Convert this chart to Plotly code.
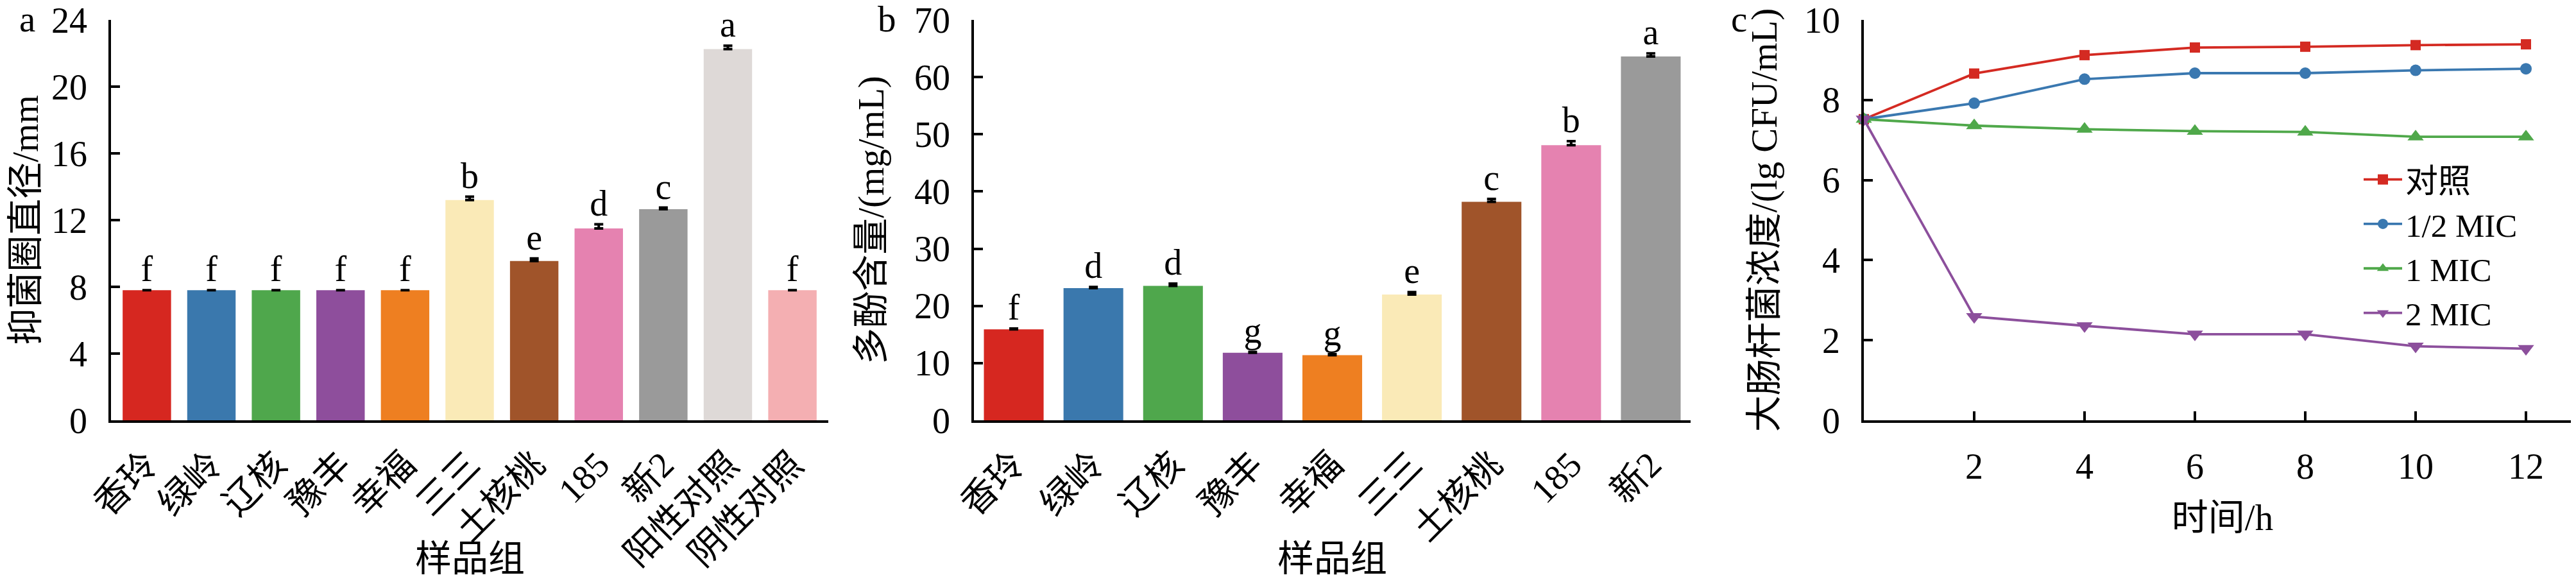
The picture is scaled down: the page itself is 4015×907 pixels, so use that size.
import plotly.graph_objects as go
from plotly.subplots import make_subplots

# panel a: inhibition zone diameter
groups_a = ["香玲", "绿岭", "辽核", "豫丰", "幸福", "三三", "土核桃", "185", "新2", "阳性对照", "阴性对照"]
zone_mm = [7.8, 7.8, 7.8, 7.8, 7.8, 13.2, 9.55, 11.5, 12.65, 22.25, 7.8]
zone_err = [0, 0, 0, 0, 0, 0.2, 0.15, 0.25, 0.1, 0.2, 0]
letters_a = ["f", "f", "f", "f", "f", "b", "e", "d", "c", "a", "f"]
colors_a = ["#d62720", "#3a78ad", "#4fa74c", "#8e4e9c", "#ee7f21", "#faeab7",
            "#a0542a", "#e582b0", "#9a9a9a", "#ded9d7", "#f4afb2"]

# panel b: polyphenol content
groups_b = ["香玲", "绿岭", "辽核", "豫丰", "幸福", "三三", "土核桃", "185", "新2"]
phenol = [15.9, 23.1, 23.5, 11.8, 11.4, 22.0, 38.2, 48.1, 63.6]
phenol_err = [0.15, 0.2, 0.4, 0.15, 0.15, 0.4, 0.5, 0.7, 0.55]
letters_b = ["f", "d", "d", "g", "g", "e", "c", "b", "a"]
colors_b = colors_a[:9]

# panel c: E. coli growth curves
hours = [0, 2, 4, 6, 8, 10, 12]
series_names = ["对照", "1/2 MIC", "1 MIC", "2 MIC"]
ctrl = [7.52, 8.66, 9.12, 9.31, 9.33, 9.37, 9.39]
half_mic = [7.52, 7.92, 8.52, 8.67, 8.67, 8.74, 8.78]
one_mic = [7.52, 7.36, 7.27, 7.22, 7.2, 7.08, 7.08]
two_mic = [7.52, 2.59, 2.36, 2.15, 2.15, 1.85, 1.79]
line_colors = ["#d42a22", "#3a78b0", "#4fa84a", "#8c4f9c"]
symbols = ["square", "circle", "triangle-up", "triangle-down"]

W, H = 4015, 907
FONT = "Liberation Serif, Noto Sans CJK SC"
fs = 56

fig = make_subplots(rows=1, cols=3)

fig.add_trace(go.Bar(x=groups_a, y=zone_mm, marker_color=colors_a, marker_line_width=0,
                     error_y=dict(type="data", array=zone_err, arrayminus=[0] * len(zone_err),
                                  symmetric=False, color="black", thickness=4, width=7),
                     showlegend=False), row=1, col=1)
fig.add_trace(go.Scatter(x=groups_a, y=[v + e for v, e in zip(zone_mm, zone_err)], text=letters_a,
                         mode="text", textposition="top center", cliponaxis=False,
                         textfont=dict(family=FONT, size=fs, color="black"), showlegend=False),
              row=1, col=1)

fig.add_trace(go.Bar(x=groups_b, y=phenol, marker_color=colors_b, marker_line_width=0,
                     error_y=dict(type="data", array=phenol_err, arrayminus=[0] * len(phenol_err),
                                  symmetric=False, color="black", thickness=4, width=7),
                     showlegend=False), row=1, col=2)
fig.add_trace(go.Scatter(x=groups_b, y=[v + e for v, e in zip(phenol, phenol_err)], text=letters_b,
                         mode="text", textposition="top center", cliponaxis=False,
                         textfont=dict(family=FONT, size=fs, color="black"), showlegend=False),
              row=1, col=2)

for name, ys, col, sym in zip(series_names, [ctrl, half_mic, one_mic, two_mic], line_colors, symbols):
    size = 22 if "triangle" in sym else (18 if sym == "circle" else 16)
    fig.add_trace(go.Scatter(x=hours, y=ys, name=name, mode="lines+markers",
                             line=dict(color=col, width=3.8),
                             marker=dict(symbol=sym, size=size, color=col),
                             cliponaxis=False), row=1, col=3)

ydom = [1 - 647 / H, 1 - 23 / H]
axis_common = dict(showline=True, linecolor="black", linewidth=3.5, showgrid=False, zeroline=False,
                   automargin=False, ticklabeloverflow="allow",
                   tickfont=dict(family=FONT, size=fs, color="black"))
title_font = dict(family=FONT, size=57, color="black")

fig.update_xaxes(domain=[165 / W, 1283 / W], ticks="", tickangle=-45, ticklabelstandoff=10,
                 row=1, col=1, **axis_common)
fig.update_xaxes(domain=[1510 / W, 2627 / W], ticks="", tickangle=-45, ticklabelstandoff=10,
                 row=1, col=2, **axis_common)
fig.update_xaxes(domain=[2897 / W, 1.0], range=[0, 13], tickvals=[2, 4, 6, 8, 10, 12],
                 ticks="inside", ticklen=14, tickwidth=3.5, tickcolor="black", ticklabelstandoff=20,
                 title=dict(text="时间/h", font=title_font, standoff=30),
                 row=1, col=3, **axis_common)

ytick = dict(ticks="inside", ticklen=14, tickwidth=3.5, tickcolor="black", ticklabelstandoff=22)
fig.update_yaxes(domain=ydom, range=[0, 24], dtick=4, row=1, col=1,
                 title=dict(text="抑菌圈直径/mm", font=title_font, standoff=30),
                 **ytick, **axis_common)
fig.update_yaxes(domain=ydom, range=[0, 70], dtick=10, row=1, col=2,
                 title=dict(text="多酚含量/(mg/mL)", font=title_font, standoff=30),
                 **ytick, **axis_common)
fig.update_yaxes(domain=ydom, range=[0, 10], dtick=2, row=1, col=3,
                 title=dict(text="大肠杆菌浓度/(lg CFU/mL)", font=title_font, standoff=25),
                 **ytick, **axis_common)

annots = [
    dict(text="a", x=20 / W, y=1 - 22 / H),
    dict(text="b", x=1358 / W, y=1 - 22 / H),
    dict(text="c", x=2688 / W, y=1 - 22 / H),
    dict(text="样品组", x=724 / W, y=1 - 862 / H),
    dict(text="样品组", x=2068 / W, y=1 - 862 / H),
]
for a in annots:
    fig.add_annotation(xref="paper", yref="paper", showarrow=False,
                       xanchor="left" if len(a["text"]) == 1 else "center", yanchor="middle",
                       font=title_font, **a)

fig.update_layout(
    template="none",
    width=W, height=H,
    margin=dict(l=0, r=0, t=0, b=0),
    plot_bgcolor="white", paper_bgcolor="white",
    bargap=0.25,
    legend=dict(x=3671 / W, y=1 - 232 / H, xanchor="left", yanchor="top",
                font=dict(family=FONT, size=51, color="black"), itemwidth=60,
                bgcolor="rgba(0,0,0,0)"),
)

fig.write_html("out.html")
